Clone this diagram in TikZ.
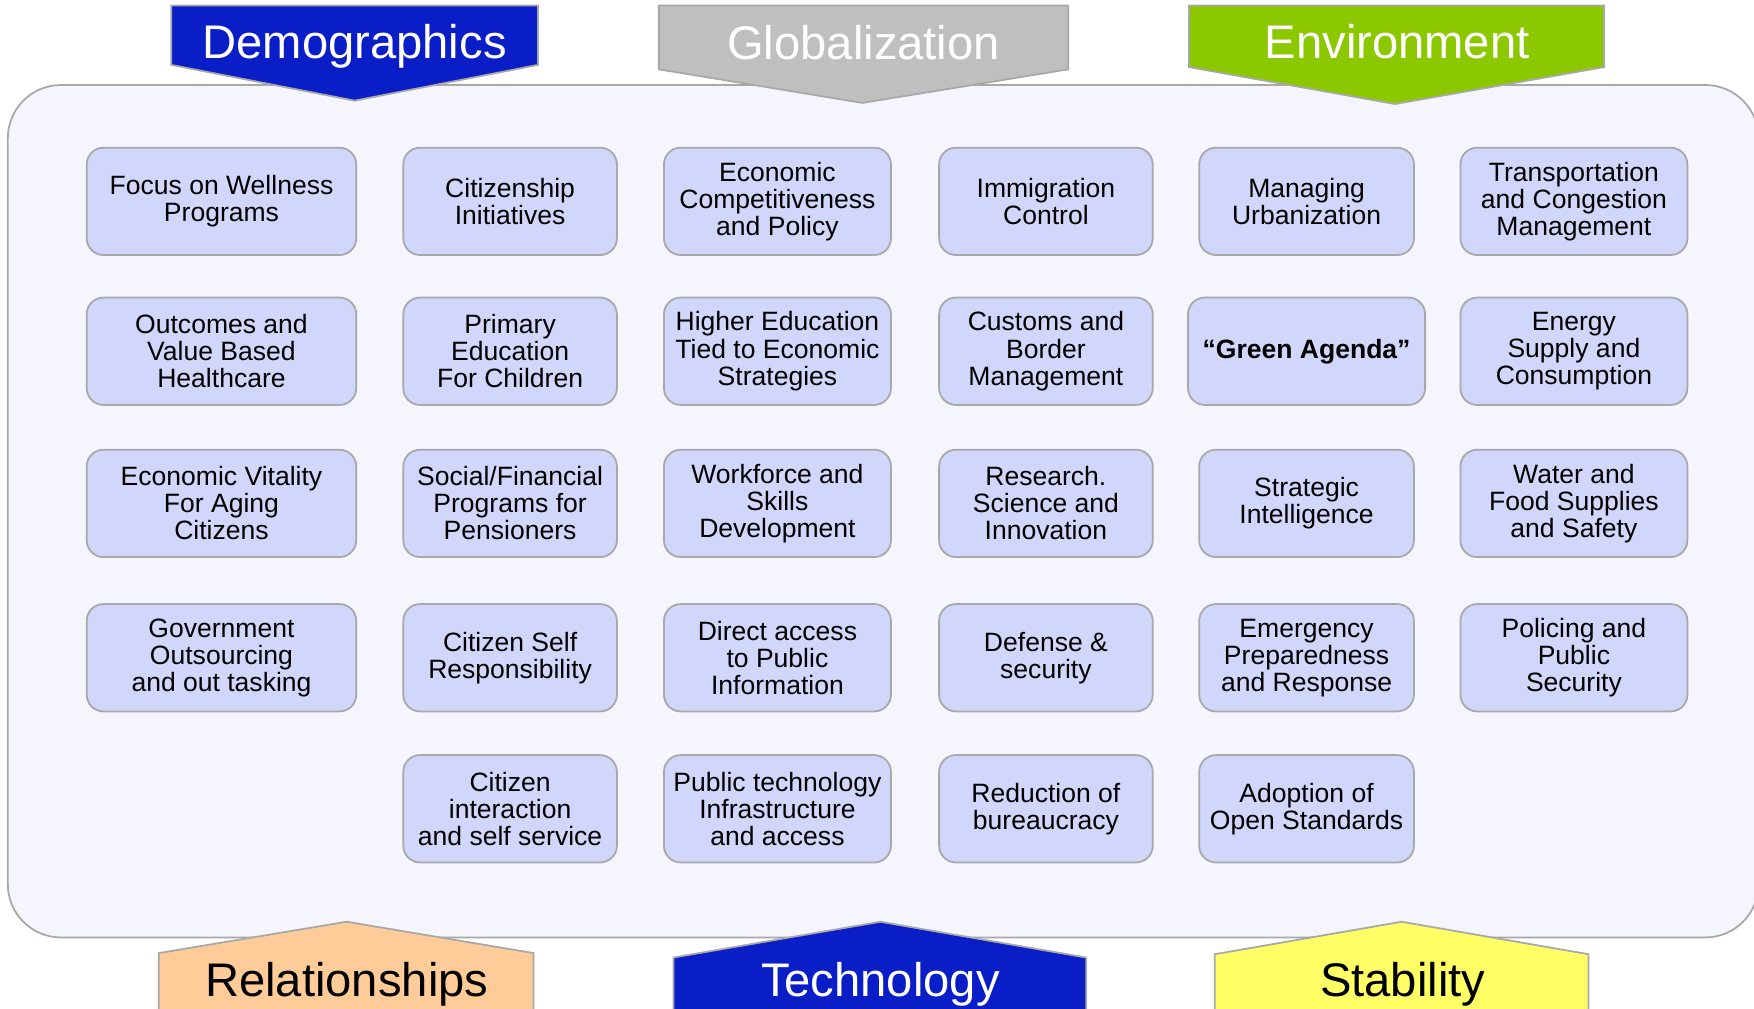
\documentclass[tikz,border=0pt]{standalone}
\usepackage{fontspec}
\setmainfont{Liberation Sans}
\usepackage{tikz}
\definecolor{panelFill}{RGB}{245,246,253}
\definecolor{cellFill}{RGB}{208,215,250}
\definecolor{edgeGray}{RGB}{168,168,168}
\definecolor{bannerBlue}{RGB}{10,30,200}
\definecolor{bannerGray}{RGB}{191,191,191}
\definecolor{bannerGreen}{RGB}{140,200,0}
\definecolor{bannerPeach}{RGB}{255,204,153}
\definecolor{bannerYellow}{RGB}{255,255,102}
\newcommand{\cellfont}{\fontsize{13.5}{13.8}\selectfont}
\newcommand{\bannerfont}{\fontsize{24}{28}\selectfont}

\begin{document}
\begin{tikzpicture}[x=0.02cm, y=-0.02cm,
	cell/.style={draw=edgeGray, line width=0.9pt, fill=cellFill, rounded corners=0.3cm,
		minimum height=1.92cm, align=center, inner sep=0pt, font=\cellfont},
	colA/.style={cell, minimum width=4.82cm},
	colB/.style={cell, minimum width=3.82cm},
	colC/.style={cell, minimum width=4.06cm},
	colD/.style={cell, minimum width=3.82cm},
	colE/.style={cell, minimum width=3.84cm},
	colF/.style={cell, minimum width=4.06cm},
	banner/.style={draw=edgeGray, line width=0.9pt},
	bannertext/.style={font=\bannerfont, inner sep=0pt, anchor=base}]

	\useasboundingbox (0,0) rectangle (1568,902);
	\clip (0,0) rectangle (1568,902);

	\draw[draw=edgeGray, line width=0.9pt, fill=panelFill, rounded corners=0.95cm] (7,76) rectangle (1572,838);

	% drivers on top
	\filldraw[banner, fill=bannerBlue] (153,5) -- (481,5) -- (481,58) -- (317,90) -- (153,58) -- cycle;
	\filldraw[banner, fill=bannerGray] (589,5) -- (955,5) -- (955,62) -- (771,92) -- (589,62) -- cycle;
	\filldraw[banner, fill=bannerGreen] (1063,5) -- (1434,5) -- (1434,60) -- (1247,93) -- (1063,60) -- cycle;
	\node[bannertext, text=white] (demographics) at (317,52) {Demographics};
	\node[bannertext, text=white] (globalization) at (772,53) {Globalization};
	\node[bannertext, text=white] (environment) at (1249,52) {Environment};

	\node[colA] (wellness) at (198,180) {Focus on Wellness\\Programs};
	\node[colB] (citizenship) at (456,180) {Citizenship\\Initiatives};
	\node[colC] (competitiveness) at (695,180) {Economic\\Competitiveness\\and Policy};
	\node[colD] (immigration) at (935,180) {Immigration\\Control};
	\node[colE] (urbanization) at (1168,180) {Managing\\Urbanization};
	\node[colF] (transport) at (1407,180) {Transportation\\and Congestion\\Management};

	\node[colA] (healthcare) at (198,314) {Outcomes and\\Value Based\\Healthcare};
	\node[colB] (primary) at (456,314) {Primary\\Education\\For Children};
	\node[colC] (higher) at (695,314) {Higher Education\\Tied to Economic\\Strategies};
	\node[colD] (customs) at (935,314) {Customs and\\Border\\Management};
	\node[cell, minimum width=4.24cm, font=\cellfont\bfseries] (green) at (1168,314) {“Green Agenda”};
	\node[colF] (energy) at (1407,314) {Energy\\Supply and\\Consumption};

	\node[colA] (vitality) at (198,450) {Economic Vitality\\For Aging\\Citizens};
	\node[colB] (pensioners) at (456,450) {Social/Financial\\Programs for\\Pensioners};
	\node[colC] (workforce) at (695,450) {Workforce and\\Skills\\Development};
	\node[colD] (research) at (935,450) {Research.\\Science and\\Innovation};
	\node[colE] (intelligence) at (1168,450) {Strategic\\Intelligence};
	\node[colF] (water) at (1407,450) {Water and\\Food Supplies\\and Safety};

	\node[colA] (outsourcing) at (198,588) {Government\\Outsourcing\\and out tasking};
	\node[colB] (selfresp) at (456,588) {Citizen Self\\Responsibility};
	\node[colC] (access) at (695,588) {Direct access\\to Public\\Information};
	\node[colD] (defense) at (935,588) {Defense \&\\security};
	\node[colE] (emergency) at (1168,588) {Emergency\\Preparedness\\and Response};
	\node[colF] (policing) at (1407,588) {Policing and\\Public\\Security};

	\node[colB] (interaction) at (456,723) {Citizen\\interaction\\and self service};
	\node[colC] (infrastructure) at (695,723) {Public technology\\Infrastructure\\and access};
	\node[colD] (bureaucracy) at (935,723) {Reduction of\\bureaucracy};
	\node[colE] (standards) at (1168,723) {Adoption of\\Open Standards};

	% enablers below
	\filldraw[banner, fill=bannerPeach] (142,910) -- (142,852) -- (310,824) -- (477,852) -- (477,910) -- cycle;
	\filldraw[banner, fill=bannerBlue] (602,910) -- (602,856) -- (787,824) -- (971,856) -- (971,910) -- cycle;
	\filldraw[banner, fill=bannerYellow] (1086,910) -- (1086,853) -- (1253,824) -- (1420,853) -- (1420,910) -- cycle;
	\node[bannertext] (relationships) at (310,891) {Relationships};
	\node[bannertext, text=white] (technology) at (787,891) {Technology};
	\node[bannertext] (stability) at (1254,891) {Stability};

\end{tikzpicture}
\end{document}
